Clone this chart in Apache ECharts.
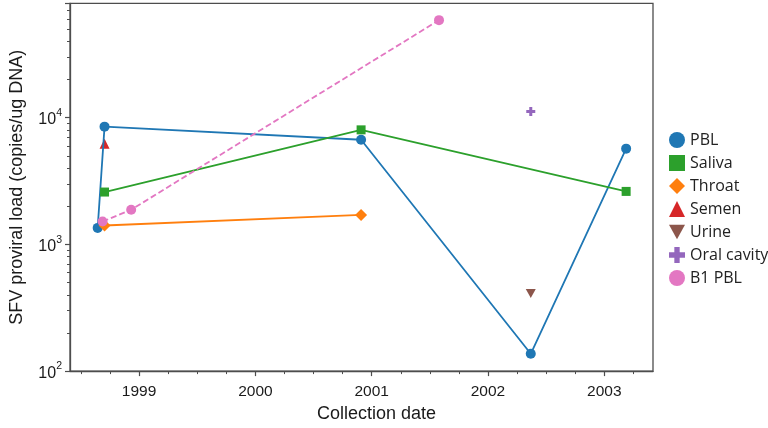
<!DOCTYPE html>
<html>
<head>
<meta charset="utf-8">
<script src="https://cdn.jsdelivr.net/npm/echarts@6/dist/echarts.min.js"></script>
<style>
html,body{margin:0;padding:0;background:#fff;}
#chart{width:768px;height:428px;}
</style>
</head>
<body>
<div id="chart"></div>
<script>
// Collection dates as decimal years; values in copies/ug DNA
const pblDates = [1998.644, 1998.703, 2000.909, 2002.368, 2003.188];
const pblValues = [1350, 8500, 6700, 137, 5700];
const salivaDates = [1998.703, 2000.909, 2003.188];
const salivaValues = [2590, 8020, 2620];
const throatDates = [1998.703, 2000.909];
const throatValues = [1410, 1710];
const semenDates = [1998.703];
const semenValues = [6240];
const urineDates = [2002.368];
const urineValues = [410];
const oralDates = [2002.368];
const oralValues = [11200];
const b1Dates = [1998.686, 1998.932, 2001.579];
const b1Values = [1516, 1878, 58900];

const yearTicks = [1999, 2000, 2001, 2002, 2003];
const quarterTicks = [1998.5, 1998.75, 1999.25, 1999.5, 1999.75, 2000.25, 2000.5, 2000.75,
  2001.25, 2001.5, 2001.75, 2002.25, 2002.5, 2002.75, 2003.25];
const yMinorTicks = [200,300,400,500,600,700,800,900,2000,3000,4000,5000,6000,7000,8000,9000,
  20000,30000,40000,50000,60000,70000];

const xMin = 1998.406, xMax = 2003.419;
const yMin = 100, yMax = 80000;

const PLUS = 'path://M3,0H6V3H9V6H6V9H3V6H0V3H3Z';
const TRI_DOWN = 'path://M0,0H10L5,9Z';

const C = {
  blue: '#1f77b4', orange: '#ff7f0e', green: '#2ca02c', red: '#d62728',
  purple: '#9467bd', brown: '#8c564b', pink: '#e377c2'
};

function pairs(xs, ys) { return xs.map((x, i) => [x, ys[i]]); }

const axisColor = '#4d4d4d';
const font = 'Liberation Sans, Arial, sans-serif';

const chart = echarts.init(document.getElementById('chart'), null, {renderer: 'canvas'});
chart.setOption({
  animation: false,
  backgroundColor: '#fff',
  grid: {left: 66.5, right: 115, top: 3.3, bottom: 50.5, show: true, borderColor: axisColor, borderWidth: 1.3, containLabel: false},
  xAxis: [{
    type: 'value', min: xMin, max: xMax,
    name: 'Collection date', nameLocation: 'middle', nameGap: 30,
    nameTextStyle: {fontFamily: font, fontSize: 18, color: '#1a1a1a', padding: [0, 0, 0, 30]},
    axisLine: {show: true, lineStyle: {color: axisColor, width: 1.3}},
    axisTick: {show: true, length: 5, lineStyle: {color: axisColor, width: 1.2}, customValues: yearTicks},
    axisLabel: {fontFamily: font, fontSize: 15.5, color: '#1a1a1a', margin: 13, customValues: yearTicks,
      formatter: v => String(Math.round(v))},
    splitLine: {show: false}
  }, {
    type: 'value', min: xMin, max: xMax, position: 'bottom',
    axisLine: {show: false},
    axisTick: {show: true, length: 3, lineStyle: {color: axisColor, width: 1}, customValues: quarterTicks},
    axisLabel: {show: false},
    splitLine: {show: false}
  }],
  yAxis: [{
    type: 'log', logBase: 10, min: yMin, max: yMax,
    name: 'SFV proviral load (copies/ug DNA)', nameLocation: 'middle', nameGap: 44, nameRotate: 90,
    nameTextStyle: {fontFamily: font, fontSize: 18, color: '#1a1a1a'},
    axisLine: {show: true, lineStyle: {color: axisColor, width: 1.3}},
    axisTick: {show: true, length: 5, lineStyle: {color: axisColor, width: 1.2}},
    minorTick: {show: false},
    axisLabel: {
      margin: 8, fontFamily: font,
      formatter: function (v) {
        const e = Math.round(Math.log10(v));
        if (Math.abs(Math.pow(10, e) - v) > 1e-6 * v) return '';
        return '{b|10}{s|' + e + '}';
      },
      rich: {
        b: {fontFamily: font, fontSize: 16, color: '#1a1a1a', verticalAlign: 'bottom', lineHeight: 20},
        s: {fontFamily: font, fontSize: 10.5, color: '#1a1a1a', verticalAlign: 'top', lineHeight: 20}
      }
    },
    splitLine: {show: false}
  }, {
    type: 'log', logBase: 10, min: yMin, max: yMax, position: 'left',
    axisLine: {show: false},
    axisTick: {show: true, length: 3, lineStyle: {color: axisColor, width: 1}, customValues: yMinorTicks},
    axisLabel: {show: false},
    splitLine: {show: false}
  }],
  legend: {
    orient: 'vertical', left: 664, top: 127,
    itemWidth: 16, itemHeight: 16, itemGap: 7,
    textStyle: {fontFamily: 'Open Sans, sans-serif', fontSize: 16, color: '#222'},
    data: [
      {name: 'PBL', icon: 'circle'},
      {name: 'Saliva', icon: 'rect'},
      {name: 'Throat', icon: 'diamond'},
      {name: 'Semen', icon: 'triangle'},
      {name: 'Urine', icon: TRI_DOWN},
      {name: 'Oral cavity', icon: PLUS},
      {name: 'B1 PBL', icon: 'circle'}
    ]
  },
  series: [
    {name: 'PBL', type: 'line', data: pairs(pblDates, pblValues), symbol: 'circle', symbolSize: 10,
      lineStyle: {color: C.blue, width: 1.8}, itemStyle: {color: C.blue}},
    {name: 'Saliva', type: 'line', data: pairs(salivaDates, salivaValues), symbol: 'rect', symbolSize: 9,
      lineStyle: {color: C.green, width: 1.8}, itemStyle: {color: C.green}},
    {name: 'Throat', type: 'line', data: pairs(throatDates, throatValues), symbol: 'diamond', symbolSize: 12,
      lineStyle: {color: C.orange, width: 1.8}, itemStyle: {color: C.orange}},
    {name: 'Semen', type: 'scatter', data: pairs(semenDates, semenValues), symbol: 'triangle', symbolSize: 10,
      itemStyle: {color: C.red, opacity: 1}},
    {name: 'Urine', type: 'scatter', data: pairs(urineDates, urineValues), symbol: TRI_DOWN, symbolSize: [10, 9],
      itemStyle: {color: C.brown, opacity: 1}},
    {name: 'Oral cavity', type: 'scatter', data: pairs(oralDates, oralValues), symbol: PLUS, symbolSize: 9,
      itemStyle: {color: C.purple, opacity: 1}},
    {name: 'B1 PBL', type: 'line', data: pairs(b1Dates, b1Values), symbol: 'circle', symbolSize: 10,
      lineStyle: {color: C.pink, width: 1.8, type: [6, 3]}, itemStyle: {color: C.pink}}
  ]
});
</script>
</body>
</html>
